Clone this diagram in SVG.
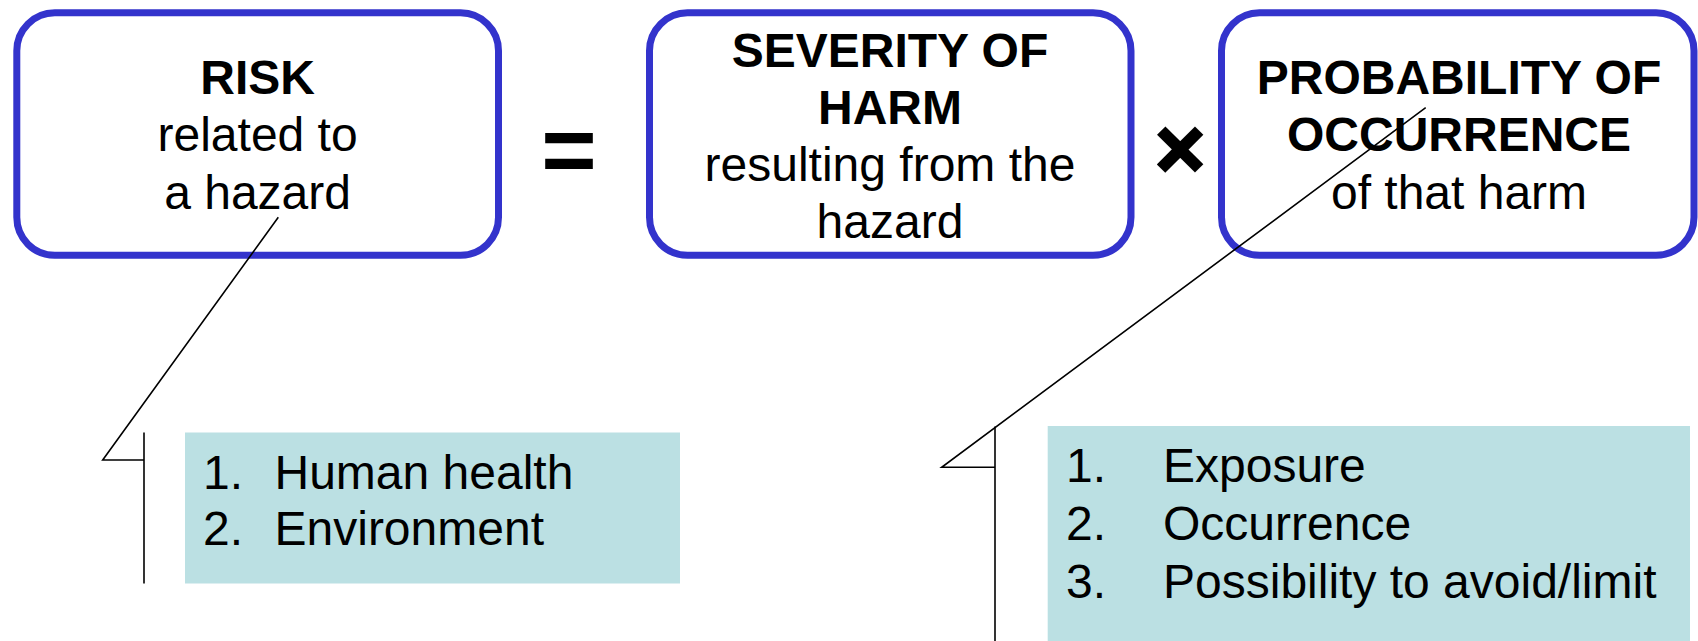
<svg xmlns="http://www.w3.org/2000/svg" width="1698" height="641" viewBox="0 0 1698 641">
<style>
.box{fill:#FFFFFF;stroke:#3333CC;stroke-width:7}
.list{fill:#BBE0E3;stroke:none}
.t{font-family:"Liberation Sans",Arial,sans-serif;font-size:48px;fill:#000000}
.c{text-anchor:middle}
.b{font-weight:bold}
.op{font-family:"Liberation Sans",Arial,sans-serif;font-weight:bold;font-size:95px;fill:#000000;text-anchor:middle}
.x{font-size:86px;stroke:#000000;stroke-width:2.5}
.ln{fill:none;stroke:#000000;stroke-width:1.6}
</style>
<g id="risk">
<rect class="box" x="16.8" y="12.8" width="481.7" height="242.5" rx="38" ry="38"/>
<text class="t c b" x="257.6" y="93.5">RISK</text>
<text class="t c" x="257.6" y="151">related to</text>
<text class="t c" x="257.6" y="208.5">a hazard</text>
</g>
<g id="equals">
<text class="op" x="569" y="182">=</text>
</g>
<g id="severity">
<rect class="box" x="649.5" y="12.8" width="481.5" height="242.5" rx="38" ry="38"/>
<text class="t c b" x="890" y="67">SEVERITY OF</text>
<text class="t c b" x="890" y="124">HARM</text>
<text class="t c" x="890" y="181">resulting from the</text>
<text class="t c" x="890" y="238">hazard</text>
</g>
<g id="times">
<text class="op x" x="1180" y="177.5">×</text>
</g>
<g id="probability">
<rect class="box" x="1221.5" y="12.8" width="472.5" height="242.5" rx="38" ry="38"/>
<text class="t c b" x="1459" y="93.5">PROBABILITY OF</text>
<text class="t c b" x="1459" y="151">OCCURRENCE</text>
<text class="t c" x="1459" y="208.5">of that harm</text>
</g>
<g id="consequences">
<rect class="list" x="185" y="432.5" width="495" height="151"/>
<text class="t" x="203" y="488.5">1.</text>
<text class="t" x="274.5" y="488.5">Human health</text>
<text class="t" x="203" y="545">2.</text>
<text class="t" x="274.5" y="545">Environment</text>
</g>
<g id="factors">
<rect class="list" x="1047.7" y="426" width="642.3" height="215"/>
<text class="t" x="1066" y="481.5">1.</text>
<text class="t" x="1163" y="481.5">Exposure</text>
<text class="t" x="1066" y="539.5">2.</text>
<text class="t" x="1163" y="539.5">Occurrence</text>
<text class="t" x="1066" y="597.5">3.</text>
<text class="t" x="1163" y="597.5">Possibility to avoid/limit</text>
</g>
<g id="connectors">
<polyline class="ln" points="278.3,217.3 102.7,460 144,460"/>
<line class="ln" x1="144" y1="432.5" x2="144" y2="583.5"/>
<polyline class="ln" points="1425.7,107.7 941.7,467.3 995,467.3"/>
<line class="ln" x1="995" y1="426.5" x2="995" y2="641"/>
</g>
</svg>
